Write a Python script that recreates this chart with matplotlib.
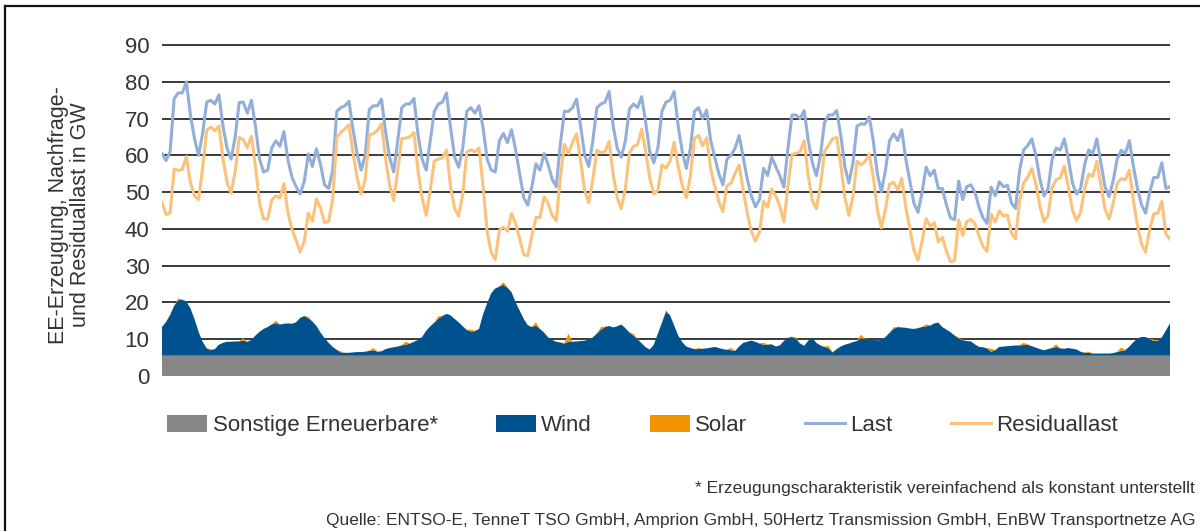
import numpy as np
import pandas as pd
import matplotlib
matplotlib.use("Agg")
import matplotlib.pyplot as plt
from matplotlib.patches import Patch
from matplotlib.lines import Line2D

# ---- data: December 2010, 3-hourly values (GW) ----
times = pd.date_range("2010-12-01 00:00", "2011-01-01 00:00", freq="3h")

last = [
    60.5, 58.6, 61, 75.5, 77, 77, 80, 71,
    64.5, 60, 66, 74.5, 75, 74, 76.5, 68,
    62, 59, 65, 74.4, 74.5, 71.5, 75, 68,
    59, 55.5, 56, 62, 64, 62.5, 66.5, 58.6,
    54, 51.5, 49.5, 53, 60.4, 57, 61.8, 57.5,
    52, 51, 56, 72, 73, 73.5, 74.7, 67,
    60.5, 56, 60, 72.5, 73.5, 73.5, 75.3, 66.5,
    59.5, 55.5, 64, 73, 74, 74, 75.5, 65.5,
    59, 56, 64, 72, 74, 74.5, 77, 67.5,
    59.5, 56.8, 62, 72, 73, 71.5, 73.5, 67.5,
    59, 56, 55.5, 64, 66, 63.5, 67, 61.5,
    55, 48.5, 46.5, 51.5, 57.7, 56, 60.5, 57.5,
    53.5, 51.5, 63, 72, 72, 73, 75.3, 68,
    60, 57, 64, 73, 74, 74.5, 77.4, 68,
    62, 59.5, 64, 72.6, 74, 73, 76, 69,
    61, 58, 62, 72, 74.5, 75, 77.4, 68,
    61, 56.5, 62, 72, 73, 70, 72.3, 64,
    59.5, 55, 52, 59, 60, 62, 65.4, 59.5,
    53.5, 49, 46, 48, 56.5, 54.5, 59.5, 57,
    54.5, 51.4, 62, 71, 71, 70, 72.2, 64,
    58, 54.5, 60, 69, 71, 71, 72.2, 65.5,
    57, 52.5, 58, 68, 68.6, 68.5, 70.5, 64,
    55, 50.1, 56, 64, 65.9, 64, 67, 59,
    53, 47, 44.5, 50, 56.8, 54.5, 56, 51,
    51, 46.5, 43, 42.5, 53, 48, 51.5, 52,
    50, 46, 43, 41.5, 51.4, 49, 52.8, 51.5,
    51.9, 47, 45.6, 56, 61.5, 62.7, 64.5, 60,
    53.5, 49, 51, 59, 62, 61.5, 64.5, 59,
    52.5, 49.5, 51, 57.5, 61.5, 60.5, 64.5, 58,
    51.5, 48.8, 53, 59, 61.4, 60.5, 64, 57,
    51, 46.5, 44.3, 50, 54, 54, 58, 51,
    51.5,
]

residual = [
    47.2, 43.9, 44.4, 56.3, 55.9, 56.2, 59.7, 52.6,
    49.0, 48.0, 56.7, 66.9, 67.7, 66.7, 68.0, 59.0,
    52.7, 49.7, 55.6, 64.9, 64.3, 62.1, 65.2, 57.0,
    47.0, 42.7, 42.7, 47.9, 49.0, 48.4, 52.3, 44.3,
    39.8, 36.9, 33.7, 36.6, 44.3, 42.1, 48.2, 45.7,
    41.7, 42.0, 48.1, 64.9, 66.3, 67.2, 68.4, 60.6,
    54.0, 49.5, 53.4, 65.6, 65.9, 66.8, 68.6, 59.2,
    51.9, 47.7, 56.0, 64.6, 64.7, 65.1, 66.2, 55.7,
    48.4, 43.7, 50.5, 58.5, 59.0, 59.3, 61.5, 51.5,
    45.5, 43.5, 49.5, 61.0, 61.5, 61.0, 62.0, 51.5,
    39.2, 33.5, 31.7, 39.6, 40.5, 39.4, 44.2, 41.5,
    37.2, 33.0, 32.7, 38.1, 43.1, 43.1, 48.7, 47.0,
    43.7, 42.2, 53.9, 63.0, 60.5, 63.6, 65.9, 58.5,
    50.4, 47.1, 53.5, 61.4, 60.7, 61.1, 63.8, 54.8,
    48.5, 45.5, 51.0, 60.7, 62.5, 62.9, 67.1, 61.2,
    53.8, 49.5, 50.5, 57.4, 56.6, 58.4, 63.6, 57.0,
    51.8, 48.5, 54.4, 64.7, 65.4, 62.6, 64.8, 56.3,
    51.6, 47.4, 44.7, 51.8, 52.4, 55.1, 57.4, 50.5,
    44.2, 39.4, 36.7, 39.1, 47.5, 45.9, 50.9, 49.0,
    46.2, 41.9, 51.6, 60.3, 60.5, 61.1, 64.0, 54.4,
    47.7, 45.5, 51.7, 61.0, 62.8, 64.5, 64.9, 57.5,
    48.5, 43.7, 48.8, 58.4, 57.4, 58.4, 60.4, 54.1,
    45.3, 40.3, 45.4, 52.2, 52.7, 50.6, 53.8, 45.9,
    40.1, 34.2, 31.5, 36.6, 42.8, 40.7, 41.7, 36.5,
    37.7, 33.9, 31.1, 31.4, 42.5, 38.2, 42.0, 42.6,
    41.4, 38.1, 35.2, 33.9, 44.0, 41.9, 44.9, 43.5,
    43.8, 38.8, 37.3, 47.6, 52.5, 54.1, 56.4, 52.3,
    46.2, 42.0, 43.7, 51.3, 53.4, 53.9, 57.1, 51.4,
    45.1, 42.3, 44.4, 51.1, 54.9, 54.3, 58.4, 51.9,
    45.4, 42.7, 46.8, 52.4, 53.7, 53.4, 56.0, 47.8,
    40.8, 35.9, 33.7, 39.9, 44.1, 44.3, 47.5, 38.6,
    37.2,
]

wind = [
    7.7, 9.1, 11.0, 13.5, 15.0, 15.1, 14.7, 12.8,
    9.9, 6.4, 3.7, 1.9, 1.4, 1.7, 2.9, 3.4,
    3.7, 3.7, 3.8, 3.8, 4.0, 3.7, 4.2, 5.4,
    6.4, 7.2, 7.7, 8.4, 8.8, 8.4, 8.6, 8.7,
    8.6, 9.0, 10.2, 10.7, 10.1, 9.2, 8.0, 6.2,
    4.7, 3.4, 2.3, 1.5, 0.8, 0.7, 0.7, 0.8,
    0.9, 0.9, 1.0, 1.2, 1.4, 1.0, 1.1, 1.7,
    2.0, 2.2, 2.4, 2.7, 2.9, 3.2, 3.7, 4.2,
    5.0, 6.7, 7.9, 8.9, 10.0, 10.7, 11.3, 10.9,
    9.9, 9.0, 7.9, 6.9, 6.5, 6.6, 7.2, 11.2,
    14.2, 16.9, 18.2, 18.7, 19.2, 18.4, 17.2, 14.4,
    12.2, 9.9, 8.2, 7.7, 8.1, 7.2, 6.2, 4.9,
    4.2, 3.7, 3.5, 3.2, 3.7, 3.7, 3.8, 3.9,
    4.0, 4.3, 4.9, 5.9, 7.0, 7.7, 8.0, 7.6,
    7.9, 8.4, 7.4, 6.2, 5.4, 4.4, 3.3, 2.2,
    1.6, 2.9, 5.9, 8.9, 11.9, 10.9, 8.2, 5.4,
    3.6, 2.4, 2.0, 1.7, 1.7, 1.8, 1.9, 2.1,
    2.3, 2.0, 1.7, 1.5, 1.4, 1.2, 2.4, 3.4,
    3.7, 4.0, 3.7, 3.2, 2.9, 2.9, 3.0, 2.4,
    2.7, 3.9, 4.8, 5.0, 4.5, 3.2, 2.6, 4.0,
    4.7, 3.4, 2.7, 2.3, 1.9, 0.8, 1.7, 2.4,
    2.9, 3.2, 3.6, 3.9, 4.6, 4.4, 4.5, 4.3,
    4.1, 4.2, 5.0, 6.1, 7.2, 7.7, 7.6, 7.5,
    7.3, 7.2, 7.4, 7.7, 7.9, 8.1, 8.7, 8.9,
    7.7, 7.0, 6.3, 5.4, 4.6, 4.1, 3.9, 3.8,
    3.0, 2.3, 2.2, 1.9, 1.0, 1.4, 2.3, 2.4,
    2.5, 2.6, 2.7, 2.7, 2.8, 2.9, 2.5, 2.1,
    1.7, 1.4, 1.7, 2.0, 2.3, 1.9, 1.8, 2.0,
    1.8, 1.6, 1.0, 0.7, 0.7, 0.5, 0.5, 0.5,
    0.5, 0.5, 0.6, 0.9, 1.2, 1.4, 2.4, 3.6,
    4.6, 5.0, 5.0, 4.4, 3.9, 4.0, 4.9, 6.8,
    8.7,
]

solar = [
    0, 0, 0, 0.1, 0.5, 0.1, 0, 0,
    0, 0, 0, 0.1, 0.3, 0.0, 0, 0,
    0, 0, 0, 0.1, 0.6, 0.1, 0, 0,
    0, 0, 0, 0.1, 0.6, 0.1, 0, 0,
    0, 0, 0, 0.1, 0.4, 0.1, 0, 0,
    0, 0, 0, 0.0, 0.3, 0.0, 0, 0,
    0, 0, 0, 0.1, 0.6, 0.1, 0, 0,
    0, 0, 0, 0.1, 0.8, 0.1, 0, 0,
    0, 0, 0, 0.1, 0.6, 0.1, 0, 0,
    0, 0, 0, 0.1, 0.5, 0.1, 0, 0,
    0, 0, 0, 0.1, 0.7, 0.1, 0, 0,
    0, 0, 0, 0.1, 0.9, 0.1, 0, 0,
    0, 0, 0, 0.2, 2.2, 0.1, 0, 0,
    0, 0, 0, 0.1, 0.7, 0.1, 0, 0,
    0, 0, 0, 0.1, 0.5, 0.1, 0, 0,
    0, 0, 0, 0.1, 0.4, 0.1, 0, 0,
    0, 0, 0, 0.0, 0.3, 0.0, 0, 0,
    0, 0, 0, 0.1, 0.6, 0.1, 0, 0,
    0, 0, 0, 0.1, 0.5, 0.1, 0, 0,
    0, 0, 0, 0.1, 0.4, 0.1, 0, 0,
    0, 0, 0, 0.1, 0.7, 0.1, 0, 0,
    0, 0, 0, 0.1, 1.0, 0.1, 0, 0,
    0, 0, 0, 0.1, 0.4, 0.1, 0, 0,
    0, 0, 0, 0.1, 0.5, 0.1, 0, 0,
    0, 0, 0, 0.1, 0.3, 0.1, 0, 0,
    0, 0, 0, 0.1, 0.8, 0.1, 0, 0,
    0, 0, 0, 0.1, 0.6, 0.1, 0, 0,
    0, 0, 0, 0.1, 0.7, 0.1, 0, 0,
    0, 0, 0, 0.1, 0.3, 0.1, 0, 0,
    0, 0, 0, 0.1, 0.9, 0.1, 0, 0,
    0, 0, 0, 0.1, 0.4, 0.1, 0, 0,
    0,
]

sonstige_level = 5.6  # constant by assumption (see footnote)

yticks = [0, 10, 20, 30, 40, 50, 60, 70, 80, 90]
legend_labels = ["Sonstige Erneuerbare*", "Wind", "Solar", "Last", "Residuallast"]
ylabel_text = "EE-Erzeugung, Nachfrage-\nund Residuallast in GW"
footnote = "* Erzeugungscharakteristik vereinfachend als konstant unterstellt"
source = ("Quelle: ENTSO-E, TenneT TSO GmbH, Amprion GmbH, 50Hertz Transmission GmbH, "
          "EnBW Transportnetze AG")

# ---- style ----
C_SONST = "#878787"
C_WIND = "#00528f"
C_SOLAR = "#f39200"
C_LAST = "#93aed8"
C_RES = "#fbc27c"
C_GRID = "#3a3a3a"
C_TEXT = "#333333"

REG = ["Liberation Sans", "DejaVu Sans"]

fig = plt.figure(figsize=(12, 5.31), dpi=100)
ax = fig.add_axes([0.135, 0.292, 0.84, 0.625])

sonst_arr = np.full(len(times), sonstige_level)
ax.stackplot(times, sonst_arr, np.array(wind), np.array(solar),
             colors=[C_SONST, C_WIND, C_SOLAR], linewidth=0, zorder=2)
ax.plot(times, last, color=C_LAST, lw=2.2, zorder=3, solid_joinstyle="round")
ax.plot(times, residual, color=C_RES, lw=2.2, zorder=3, solid_joinstyle="round")

ax.set_xlim(times[0], times[-1])
ax.set_ylim(0, 90.3)
ax.set_yticks(yticks)
ax.set_yticklabels([str(t) for t in yticks], fontsize=16, color=C_TEXT, family=REG)
ax.tick_params(axis="y", length=0, pad=9)
ax.set_xticks([])
for s in ax.spines.values():
    s.set_visible(False)
ax.yaxis.grid(True, color=C_GRID, lw=1.4, zorder=1)
ax.set_axisbelow(True)

fig.text(0.058, 0.595, ylabel_text, rotation=90, ha="center", va="center",
         fontsize=15.5, color=C_TEXT, family=REG, linespacing=1.1, multialignment="center")

handles = [
    Patch(facecolor=C_SONST, edgecolor="none"),
    Patch(facecolor=C_WIND, edgecolor="none"),
    Patch(facecolor=C_SOLAR, edgecolor="none"),
    Line2D([], [], color=C_LAST, lw=2.2),
    Line2D([], [], color=C_RES, lw=2.2),
]
leg = fig.legend(handles, legend_labels, loc="center", bbox_to_anchor=(0.5354, 0.198),
                 ncol=5, frameon=False, handlelength=1.8, handleheight=0.75,
                 handletextpad=0.25, columnspacing=2.6,
                 prop={"family": REG, "size": 16})
for t in leg.get_texts():
    t.set_color(C_TEXT)

fig.text(0.996, 1 - 489 / 531, footnote, ha="right", va="center", fontsize=12.5,
         color=C_TEXT, family=REG)
fig.text(0.996, 1 - 520 / 531, source, ha="right", va="center", fontsize=12.5,
         color=C_TEXT, family=REG)

# outer frame (top and left edges visible in the reference)
fig.add_artist(Line2D([5 / 1200, 5 / 1200], [0, 1 - 6 / 531], transform=fig.transFigure,
                      color="#111111", lw=1.6))
fig.add_artist(Line2D([5 / 1200, 1], [1 - 6 / 531, 1 - 6 / 531], transform=fig.transFigure,
                      color="#111111", lw=1.6))

fig.savefig("out.png", dpi=100)
